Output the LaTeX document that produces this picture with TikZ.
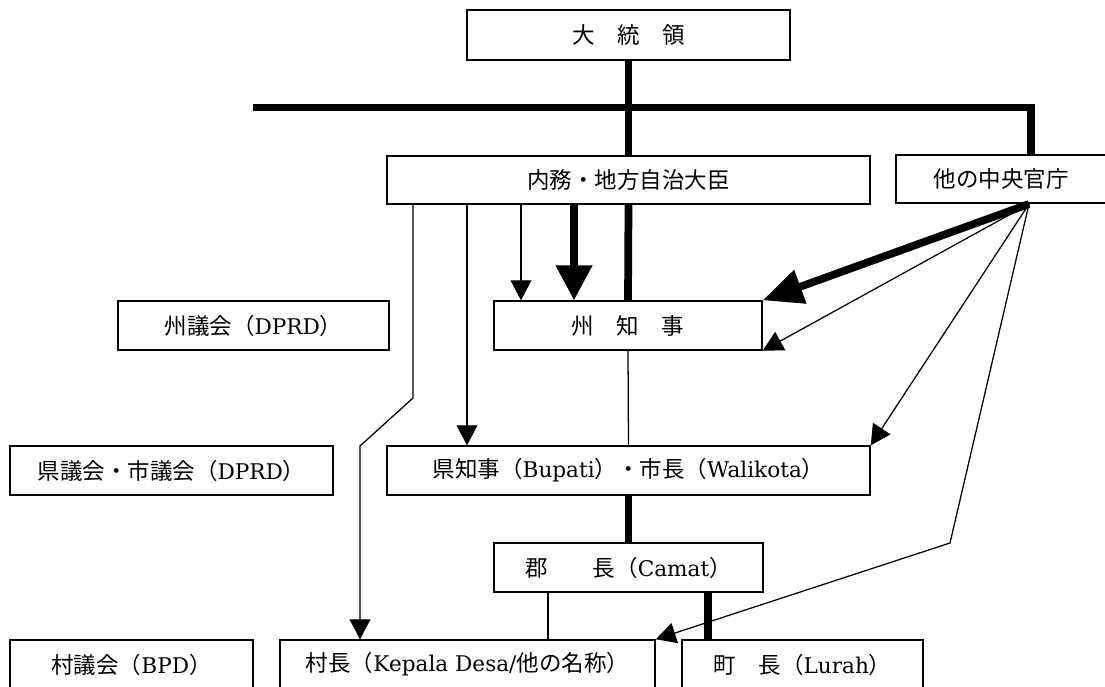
\documentclass[tikz,border=0pt]{standalone}
\usepackage{fontspec}
\newfontfamily\jp{Noto Sans CJK JP}
\newfontfamily\lat{DejaVu Serif}[Scale=0.96]
\usepackage{tikz}
\usetikzlibrary{arrows.meta,positioning,calc}

\begin{document}
\begin{tikzpicture}[x=0.025cm,y=-0.025cm,
    box/.style={draw,fill=white,line width=1pt,inner sep=0pt,minimum height=1.225cm,font=\fontsize{16}{19}\selectfont\lat},
    fine/.style={line width=0.9pt},
    heavy/.style={line width=5.5pt},
    arr/.style={fine,-{Triangle[length=0.5cm,width=0.52cm]}},
    bigarr/.style={heavy,-{Triangle[length=0.875cm,width=0.875cm]}}]
    \useasboundingbox (0,0) rectangle (1105,686);
    \clip (0,0) rectangle (1105,686);

    % boxes
    \node[box,minimum width=8.075cm,minimum height=1.25cm] (pres) at (628.5,35) {\jp 大　統　領};
    \node[box,minimum width=12.075cm,minimum height=1.2cm] (naimu) at (628.5,180) {\jp 内務・地方自治大臣};
    \node[box,minimum width=5.25cm,minimum height=1.2cm] (other) at (1001,179) {\jp 他の中央官庁};
    \node[box,minimum width=6.7cm] (shuchiji) at (628,325.5) {\jp 州　知　事};
    \node[box,minimum width=6.775cm] (shugikai) at (253.5,325.5) {{\jp 州議会（}DPRD{\jp ）}};
    \node[box,minimum width=12.075cm] (kenchiji) at (628.5,470.5) {{\jp 県知事（}Bupati{\jp ）・市長（}Walikota{\jp ）}};
    \node[box,minimum width=8.075cm] (kengikai) at (171.5,470.5) {{\jp 県議会・市議会（}DPRD{\jp ）}};
    \node[box,minimum width=6.725cm] (guncho) at (628.5,567.5) {{\jp 郡　　長（}Camat{\jp ）}};
    \node[box,minimum width=9.375cm] (soncho) at (467.5,664.5) {{\jp 村長（}Kepala Desa/{\jp 他の名称）}};
    \node[box,minimum width=6.025cm] (chocho) at (802.5,664.5) {{\jp 町　長（}Lurah{\jp ）}};
    \node[box,minimum width=6.075cm] (songikai) at (131.5,664.5) {{\jp 村議会（}BPD{\jp ）}};

    % heavy lines
    \coordinate (busL) at (253,107.5);
    \coordinate (busR) at (1031,107.5);
    \draw[heavy] (pres.south) -- (naimu.north);
    \draw[heavy] (busL) -- (busR) -- (busR |- other.north);
    \draw[heavy] (naimu.south) -- (shuchiji.north);
    \draw[heavy] (kenchiji.south) -- (guncho.north);
    \draw[heavy] (guncho.south -| 708,0) -- (chocho.north -| 708,0);

    % from the minister
    \draw[bigarr] (naimu.south -| 574,0) -- (shuchiji.north -| 574,0);
    \draw[arr] (naimu.south -| 521,0) -- (shuchiji.north -| 521,0);
    \draw[arr] (naimu.south -| 467,0) -- (kenchiji.north -| 467,0);
    \draw[arr] (naimu.south -| 413,0) -- (413,398) -- (360,446) -- (soncho.north -| 360,0);

    % thin lines
    \draw[fine] (shuchiji.south) -- (kenchiji.north);
    \draw[fine] (guncho.south -| 548,0) -- (soncho.north -| 548,0);

    % from the other ministries
    \coordinate (src) at (1029,204);
    \draw[heavy,-{Triangle[length=1cm,width=0.85cm]}] (src) -- (shuchiji.north east);
    \draw[arr] (src) -- (shuchiji.south east);
    \draw[arr] (src) -- (kenchiji.north east);
    \draw[arr] (src) -- (950,543) -- (soncho.north east);
\end{tikzpicture}
\end{document}
